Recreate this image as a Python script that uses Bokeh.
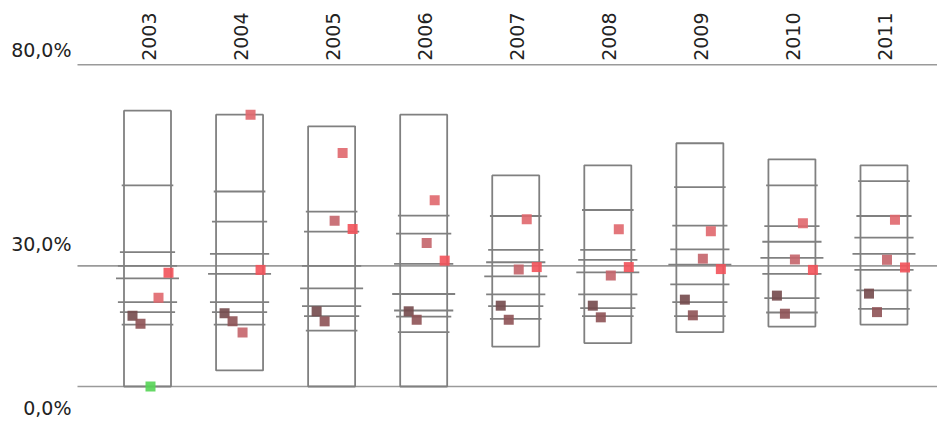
import numpy as np
from bokeh.plotting import figure
from bokeh.models import Range1d, ColumnDataSource
from bokeh.transform import dodge
from bokeh.core.properties import value
from bokeh.embed import file_html
from bokeh.resources import INLINE

# ---------------- data ----------------
years = [2003, 2004, 2005, 2006, 2007, 2008, 2009, 2010, 2011]
year_labels = [str(y) for y in years]

box_max = [68.6, 67.6, 64.7, 67.6, 52.5, 55.0, 60.5, 56.5, 55.0]
box_min = [0.0, 4.0, 0.0, 0.0, 9.9, 10.8, 13.5, 14.9, 15.4]

p90 = [50.0, 48.5, 43.5, 42.5, 42.4, 43.9, 49.6, 50.0, 51.1]
p75 = [33.4, 41.0, 38.5, 38.0, 34.0, 34.0, 40.0, 39.9, 42.4]
p60 = [30.0, 33.0, 30.0, 30.5, 30.9, 31.5, 34.1, 36.0, 37.0]
p50 = [26.9, 28.0, 24.4, 23.0, 27.4, 28.4, 30.3, 32.0, 33.0]
p40 = [21.0, 21.0, 20.0, 18.9, 22.9, 22.9, 25.4, 28.0, 29.0]
p25 = [18.5, 18.5, 17.5, 17.4, 20.0, 19.5, 21.0, 22.0, 23.9]
p10 = [15.4, 15.4, 13.9, 13.5, 16.8, 17.5, 17.5, 18.4, 19.3]

s1 = [17.6, 18.2, 18.7, 18.7, 20.1, 20.1, 21.6, 22.6, 23.1]
s2 = [15.6, 16.2, 16.2, 16.6, 16.6, 17.2, 17.7, 18.1, 18.5]
s3 = [0.0, 13.4, 41.2, 35.7, 29.1, 27.6, 31.8, 31.6, 31.5]
s4 = [22.1, 67.6, 58.1, 46.3, 41.6, 39.1, 38.6, 40.6, 41.5]
s5 = [28.3, 29.0, 39.2, 31.3, 29.7, 29.7, 29.2, 29.0, 29.6]
s3_colors = ["#55d455", "#c4646a", "#c4646a", "#c4646a", "#c4646a",
             "#c4646a", "#c4646a", "#c4646a", "#c4646a"]

y_ticks = [0, 30, 80]
y_tick_labels = ["0,0%", "30,0%", "80,0%"]

# ---------------- layout ----------------
W, H = 937, 421
px_per_year = 92.06
first_center_px = 147.0
x_start = years[0] - first_center_px / px_per_year
x_end = x_start + W / px_per_year
px_per_pct = 4.021
zero_px_from_top = 386.0
y_start = -(H - zero_px_from_top) / px_per_pct
y_end = y_start + H / px_per_pct
grid_left = x_start + 77.0 / px_per_year

FONT = "DejaVu Sans"
TEXT_COLOR = "#222222"
LINE_COLOR = "#808080"
GRID_COLOR = "#9a9a9a"

p = figure(width=W, height=H,
           x_range=Range1d(x_start, x_end), y_range=Range1d(y_start, y_end),
           output_backend="svg", toolbar_location=None,
           x_axis_location=None, y_axis_location=None, min_border=0)
p.grid.visible = False
p.outline_line_color = None
p.background_fill_color = "white"

# horizontal gridlines
p.segment(x0=grid_left, y0=y_ticks, x1=x_end, y1=y_ticks,
          line_color=GRID_COLOR, line_width=1.6)

# y labels (placed off the gridlines as in the original)
ysrc = ColumnDataSource(dict(y=y_ticks, t=y_tick_labels, yoff=[21.0, -22.0, -14.5]))
p.text(x=grid_left, y="y", text="t", source=ysrc, x_offset=-6, y_offset="yoff",
       text_align="right", text_baseline="middle",
       text_font=value(FONT), text_font_size="19px", text_color=TEXT_COLOR)

# year labels (rotated, above the 80% line)
p.text(x=years, y=80, text=year_labels, angle=np.pi / 2, x_offset=1, y_offset=-4,
       text_align="left", text_baseline="middle",
       text_font=value(FONT), text_font_size="19px", text_color=TEXT_COLOR)

# boxes (min..max)
p.vbar(x=years, width=47 / px_per_year, top=box_max, bottom=box_min,
       fill_color=None, line_color=LINE_COLOR, line_width=1.8)

# percentile ticks
yrs = np.array(years, dtype=float)
half_widths_px = [25.8, 27.6, 29.6, 31.5, 29.6, 27.6, 25.8]
for vals, hw in zip([p90, p75, p60, p50, p40, p25, p10], half_widths_px):
    h = hw / px_per_year
    p.segment(x0=yrs - h, y0=vals, x1=yrs + h, y1=vals,
              line_color=LINE_COLOR, line_width=1.8)

# markers
src = ColumnDataSource(dict(year=years, s1=s1, s2=s2, s3=s3, s4=s4, s5=s5, c3=s3_colors))
marker_specs = [("s1", -15, "#744a4c"), ("s2", -7, "#8e5255"), ("s3", 3, "c3"),
                ("s4", 11, "#e0676d"), ("s5", 21, "#f2525a")]
for col, off_px, color in marker_specs:
    p.scatter(x=dodge("year", off_px / px_per_year, range=p.x_range), y=col,
              source=src, marker="square", size=10,
              fill_color=color, fill_alpha=0.9, line_color=None)

open("out.html", "w").write(file_html(p, INLINE))
